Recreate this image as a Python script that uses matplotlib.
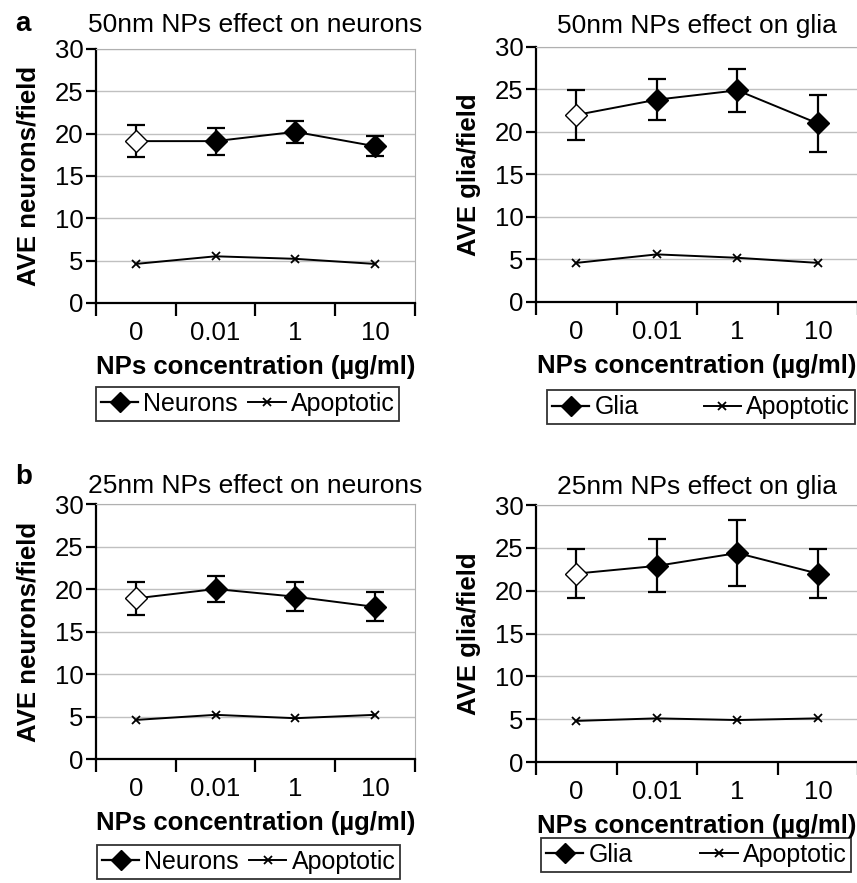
import matplotlib
matplotlib.use("Agg")
import matplotlib.pyplot as plt
from matplotlib.lines import Line2D

plt.rcParams['font.family'] = ['Liberation Sans', 'DejaVu Sans']

categories = ["0", "0.01", "1", "10"]

# 50nm
neurons_50 = [19.1, 19.1, 20.2, 18.5]
neurons_50_err = [1.9, 1.6, 1.3, 1.2]
apop_neurons_50 = [4.6, 5.5, 5.2, 4.6]

glia_50 = [22.0, 23.8, 24.9, 21.0]
glia_50_err = [2.9, 2.4, 2.5, 3.3]
apop_glia_50 = [4.6, 5.6, 5.2, 4.6]

# 25nm
neurons_25 = [18.9, 20.0, 19.1, 17.9]
neurons_25_err = [1.9, 1.5, 1.7, 1.7]
apop_neurons_25 = [4.6, 5.2, 4.8, 5.2]

glia_25 = [22.0, 22.9, 24.4, 22.0]
glia_25_err = [2.9, 3.1, 3.8, 2.9]
apop_glia_25 = [4.8, 5.1, 4.9, 5.1]

yticks = [0, 5, 10, 15, 20, 25, 30]


def draw_panel(ax, title, ylabel, cells, err, apop, cell_label, legend_pos, colsp, tpad):
    x = list(range(len(categories)))
    ax.set_xlim(-0.5, len(categories) - 0.5)
    ax.set_ylim(0, 30)
    for v in yticks[1:]:
        ax.axhline(v, color="#c0c0c0", lw=1.0, zorder=0)
    ax.plot(x, apop, color="black", lw=1.4, marker="x", ms=5.5, mew=1.3, zorder=2)
    ax.errorbar(x, cells, yerr=err, fmt="none", ecolor="black", elinewidth=1.6,
                capsize=6.5, capthick=1.6, zorder=3)
    ax.plot(x, cells, color="black", lw=1.4, zorder=3)
    ax.plot(x[1:], cells[1:], ls="none", marker="D", ms=11, mfc="black", mec="black", zorder=4)
    ax.plot(x[:1], cells[:1], ls="none", marker="D", ms=11, mfc="white", mec="black", mew=1.0, zorder=4)

    ax.set_xticks([i - 0.5 for i in range(len(categories) + 1)])
    ax.set_xticklabels([])
    ax.set_xticks(x, minor=True)
    ax.set_xticklabels(categories, minor=True, fontsize=18.5)
    ax.tick_params(axis="x", which="major", direction="out", length=9, width=1.6)
    ax.tick_params(axis="x", which="minor", length=0, pad=13)
    ax.set_yticks(yticks)
    ax.set_yticklabels([str(v) for v in yticks], fontsize=18.5)
    ax.tick_params(axis="y", direction="out", length=7, width=1.6, pad=2)

    ax.spines["left"].set_linewidth(1.6)
    ax.spines["bottom"].set_linewidth(1.6)
    ax.spines["top"].set_color("#b0b0b0")
    ax.spines["right"].set_color("#b0b0b0")

    ax.set_title(title, fontsize=19, pad=tpad)
    ax.set_ylabel(ylabel, fontsize=18.5, fontweight="bold", labelpad=10)
    ax.set_xlabel("NPs concentration (µg/ml)", fontsize=18.5, fontweight="bold", labelpad=7)

    handles = [
        Line2D([], [], color="black", lw=1.6, marker="D", ms=10, mfc="black"),
        Line2D([], [], color="black", lw=1.4, marker="x", ms=5.5, mew=1.3),
    ]
    leg = ax.legend(handles, [cell_label, "Apoptotic"], ncol=2, loc="upper left",
                    bbox_to_anchor=legend_pos, bbox_transform=ax.figure.transFigure,
                    fontsize=18, frameon=True, fancybox=False, edgecolor="black",
                    handlelength=1.5, handletextpad=0.2, columnspacing=colsp,
                    borderpad=0.2, borderaxespad=0)
    leg.get_frame().set_linewidth(1.3)


fig = plt.figure(figsize=(8.57, 8.83), dpi=100)

ax1 = fig.add_axes([0.112, 0.657, 0.372, 0.2877])
ax2 = fig.add_axes([0.6254, 0.658, 0.376, 0.2888])
ax3 = fig.add_axes([0.112, 0.1404, 0.372, 0.2888])
ax4 = fig.add_axes([0.6254, 0.137, 0.376, 0.291])

draw_panel(ax1, "50nm NPs effect on neurons", "AVE neurons/field",
           neurons_50, neurons_50_err, apop_neurons_50, "Neurons", (0.112, 0.562), 0.4, 12)
draw_panel(ax2, "50nm NPs effect on glia", "AVE glia/field",
           glia_50, glia_50_err, apop_glia_50, "Glia", (0.638, 0.558), 2.6, 10)
draw_panel(ax3, "25nm NPs effect on neurons", "AVE neurons/field",
           neurons_25, neurons_25_err, apop_neurons_25, "Neurons", (0.113, 0.043), 0.4, 8)
draw_panel(ax4, "25nm NPs effect on glia", "AVE glia/field",
           glia_25, glia_25_err, apop_glia_25, "Glia", (0.631, 0.051), 2.7, 8)

fig.text(0.018, 0.988, "a", fontsize=20, fontweight="bold", va="top")
fig.text(0.018, 0.474, "b", fontsize=20, fontweight="bold", va="top")

fig.savefig("out.png", dpi=100)
